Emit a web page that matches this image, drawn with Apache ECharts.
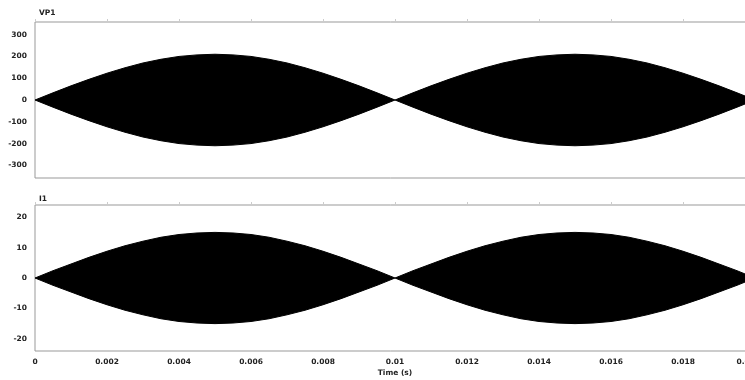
<!DOCTYPE html>
<html>
<head>
<meta charset="utf-8">
<script src="https://cdn.jsdelivr.net/npm/echarts@6/dist/echarts.min.js"></script>
<style>
html, body { margin: 0; padding: 0; background: #fff; }
#chart { width: 745px; height: 380px; }
</style>
</head>
<body>
<div id="chart"></div>
<script>
// sample times (s), every 0.5 ms
var times = [0, 0.0005, 0.001, 0.0015, 0.002, 0.0025, 0.003, 0.0035, 0.004, 0.0045,
    0.005, 0.0055, 0.006, 0.0065, 0.007, 0.0075, 0.008, 0.0085, 0.009, 0.0095,
    0.01, 0.0105, 0.011, 0.0115, 0.012, 0.0125, 0.013, 0.0135, 0.014, 0.0145,
    0.015, 0.0155, 0.016, 0.0165, 0.017, 0.0175, 0.018, 0.0185, 0.019, 0.0195, 0.02];
// envelope of VP1 (peak of the fast oscillation)
var vp1Env = [0, 33, 65, 95, 123, 148, 170, 187, 200, 207,
    210, 207, 200, 187, 170, 148, 123, 95, 65, 33,
    0, 33, 65, 95, 123, 148, 170, 187, 200, 207,
    210, 207, 200, 187, 170, 148, 123, 95, 65, 33, 0];
// envelope of I1
var i1Env = [0, 2.4, 4.6, 6.8, 8.8, 10.6, 12.1, 13.4, 14.3, 14.8,
    15, 14.8, 14.3, 13.4, 12.1, 10.6, 8.8, 6.8, 4.6, 2.4,
    0, 2.4, 4.6, 6.8, 8.8, 10.6, 12.1, 13.4, 14.3, 14.8,
    15, 14.8, 14.3, 13.4, 12.1, 10.6, 8.8, 6.8, 4.6, 2.4, 0];
var vp1Ticks = [-300, -200, -100, 0, 100, 200, 300];
var i1Ticks = [-20, -10, 0, 10, 20];
var xTicks = [0, 0.002, 0.004, 0.006, 0.008, 0.01, 0.012, 0.014, 0.016, 0.018, 0.02];

function pairs(env, sign) {
    return times.map(function (t, i) { return [t, sign * env[i]]; });
}

var labelStyle = { fontFamily: 'DejaVu Sans', fontWeight: 'bold', fontSize: 7.5, color: '#222' };

function band(idx, env) {
    var base = { type: 'line', xAxisIndex: idx, yAxisIndex: idx, showSymbol: false, silent: true,
        lineStyle: { color: '#000', width: 1 }, areaStyle: { color: '#000', opacity: 1 } };
    return [
        Object.assign({ data: pairs(env, 1) }, base),
        Object.assign({ data: pairs(env, -1) }, base)
    ];
}

function yAxis(idx, lim, ticks) {
    return {
        type: 'value', gridIndex: idx, min: -lim, max: lim,
        axisLine: { show: false }, axisTick: { show: false }, splitLine: { show: false },
        axisLabel: Object.assign({ customValues: ticks, margin: 8 }, labelStyle)
    };
}

function xAxis(idx, showLabels) {
    return {
        type: 'value', gridIndex: idx, min: 0, max: 0.02,
        axisLine: { show: false }, axisTick: { show: false }, splitLine: { show: false },
        name: showLabels ? 'Time (s)' : '', nameLocation: 'middle', nameGap: 18,
        nameTextStyle: labelStyle,
        axisLabel: Object.assign({
            show: showLabels, customValues: xTicks, margin: 7,
            showMaxLabel: true, alignMaxLabel: 'right', hideOverlap: false,
            formatter: function (v) { return String(parseFloat(v.toFixed(3))); }
        }, labelStyle)
    };
}

// small notches on the top border of each panel
function topAxis(idx) {
    return {
        type: 'value', gridIndex: idx, position: 'top', min: 0, max: 0.02,
        axisLine: { show: false }, splitLine: { show: false }, axisLabel: { show: false },
        axisTick: { show: true, customValues: xTicks, length: 3, lineStyle: { color: '#ccc', width: 1 } }
    };
}

var grids = [
    { left: 35, right: -10, top: 22, height: 156 },
    { left: 35, right: -10, top: 205, height: 146 }
].map(function (g) {
    return Object.assign({ show: true, borderColor: '#999', borderWidth: 1, outerBoundsMode: 'none', containLabel: false }, g);
});

var chart = echarts.init(document.getElementById('chart'));
chart.setOption({
    animation: false,
    backgroundColor: '#fff',
    title: [
        { text: 'VP1', left: 34, top: 4, textStyle: Object.assign({}, labelStyle) },
        { text: 'I1', left: 34, top: 190, textStyle: Object.assign({}, labelStyle) }
    ],
    grid: grids,
    xAxis: [xAxis(0, false), xAxis(1, true), topAxis(0), topAxis(1)],
    yAxis: [yAxis(0, 358, vp1Ticks), yAxis(1, 24, i1Ticks)],
    series: band(0, vp1Env).concat(band(1, i1Env))
});
</script>
</body>
</html>
